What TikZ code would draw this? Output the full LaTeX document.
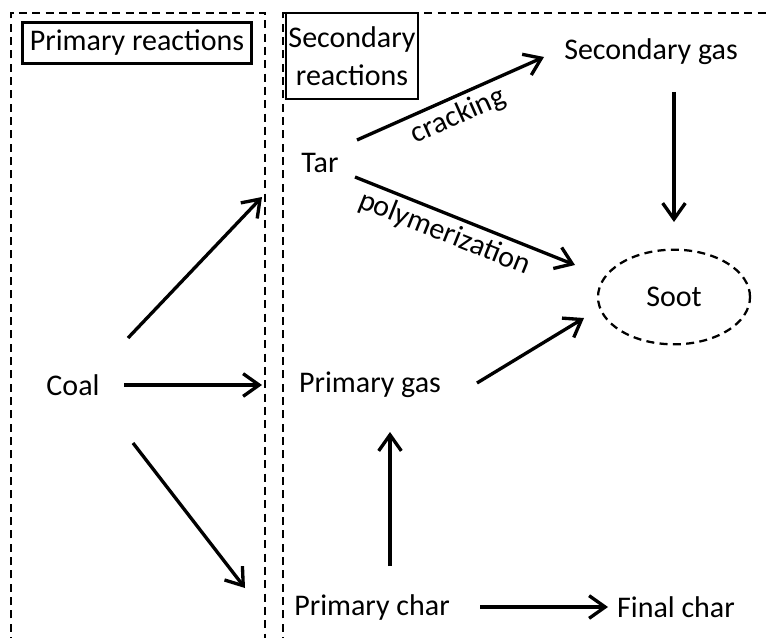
\documentclass[tikz,border=0pt]{standalone}
\usepackage{fontspec}
\setmainfont{Carlito}
\usetikzlibrary{arrows.meta,shapes.geometric,calc}
\begin{document}
\begin{tikzpicture}[x=0.75pt,y=-0.75pt,
  txt/.style={inner sep=0pt,font=\fontsize{22.5}{28.5}\selectfont},
  arr/.style={line width=2.5pt,-{Straight Barb[length=12pt,width=17pt,line width=2.5pt]}},
  region/.style={line width=1.7pt,dash pattern=on 6pt off 4pt},
  titlebox/.style={draw,line width=1.6pt,inner sep=0pt,font=\fontsize{22.5}{28.5}\selectfont,align=center}]
\useasboundingbox (0,0) rectangle (767,638);
% regions
\draw[region] (11,645) -- (11,13) -- (265,13) -- (265,645);
\draw[region] (283,645) -- (283,13) -- (775,13);
% title boxes
\node[titlebox,minimum width=171.75pt,minimum height=30.75pt] (ptitle) at (137,43) {Primary reactions};
\node[titlebox,minimum width=99pt,minimum height=64.5pt] (stitle) at (352,56) {Secondary\\reactions};
% species
\node[txt] (coal) at (73,385) {Coal};
\node[txt] (tar) at (320,163) {Tar};
\node[txt] (sgas) at (651,52) {Secondary gas};
\node[txt] (pgas) at (370,385) {Primary gas};
\node[txt] (pchar) at (372,607) {Primary char};
\node[txt] (fchar) at (676,607) {Final char};
\node[draw,ellipse,region,minimum width=114pt,minimum height=71pt,txt] (soot) at (674,297) {Soot};
% connectors
\draw[arr] ($(coal)+(55,-47)$) -- ($(tar)+(-58,34)$);
\draw[arr] ($(coal)+(51,0)$) -- ($(pgas)+(-108,0)$);
\draw[arr] ($(coal)+(60,58)$) -- ($(pchar)+(-127,-19)$);
\draw[arr] ($(tar)+(37,-23)$) -- node[txt,sloped,below,pos=0.5,inner sep=3.5pt] {cracking} ($(sgas)+(-107,5)$);
\draw[arr] ($(tar)+(35,14)$) -- node[txt,sloped,below,pos=0.44,inner sep=3.5pt] {polymerization} ($(soot)+(-99,-32)$);
\draw[arr] ($(sgas)+(23,40)$) -- ($(soot)+(0,-75)$);
\draw[arr] ($(pgas)+(107,-2)$) -- ($(soot)+(-90,21)$);
\draw[arr] ($(pchar)+(18,-41)$) -- ($(pgas)+(20,47)$);
\draw[arr] ($(pchar)+(108,0)$) -- ($(fchar)+(-68,0)$);
\end{tikzpicture}
\end{document}
